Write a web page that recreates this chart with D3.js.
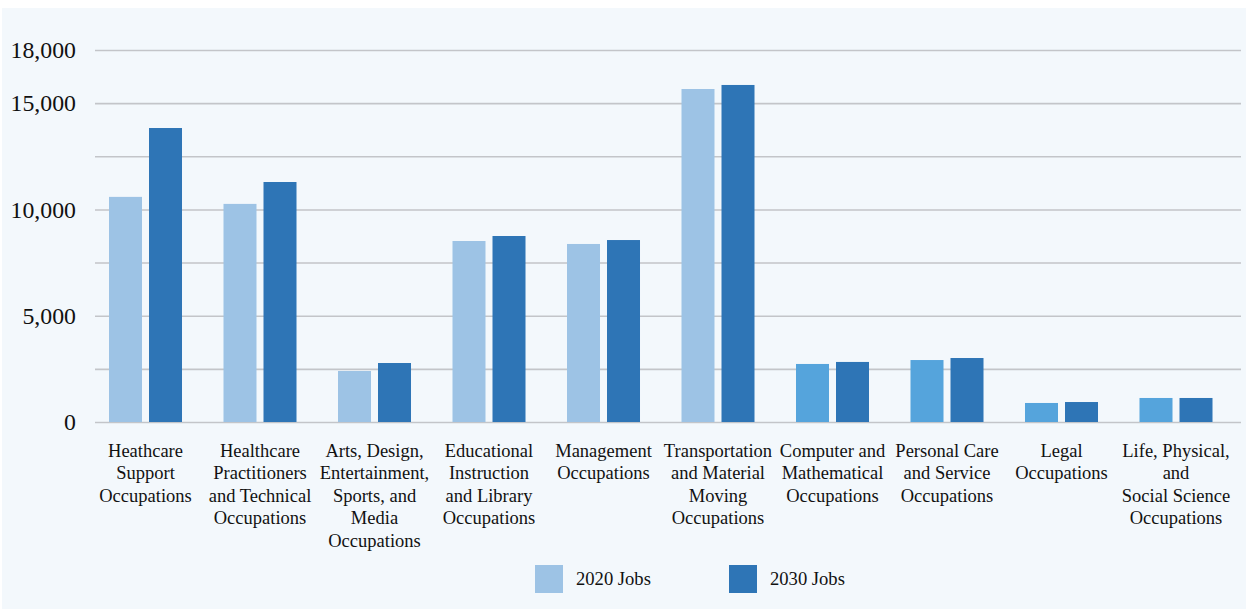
<!DOCTYPE html>
<html>
<head>
<meta charset="utf-8">
<script src="https://cdn.jsdelivr.net/npm/d3@7"></script>
<style>
  html, body { margin: 0; padding: 0; background: #ffffff; }
  svg { display: block; }
  text { font-family: "Liberation Serif", "Times New Roman", serif; fill: #111; }
</style>
</head>
<body>
<svg id="chart" width="1248" height="609"></svg>
<script>
// Occupation groups (line breaks mark label wrapping)
const categories = [
  "Heathcare\nSupport\nOccupations",
  "Healthcare\nPractitioners\nand Technical\nOccupations",
  "Arts, Design,\nEntertainment,\nSports, and\nMedia\nOccupations",
  "Educational\nInstruction\nand Library\nOccupations",
  "Management\nOccupations",
  "Transportation\nand Material\nMoving\nOccupations",
  "Computer and\nMathematical\nOccupations",
  "Personal Care\nand Service\nOccupations",
  "Legal\nOccupations",
  "Life, Physical,\nand\nSocial Science\nOccupations"
];
const seriesNames = ["2020 Jobs", "2030 Jobs"];
const jobs2020 = [10590, 10260, 2400, 8515, 8375, 15665, 2730, 2915, 895, 1130];
const jobs2030 = [13830, 11290, 2775, 8750, 8560, 15855, 2825, 3010, 940, 1130];
const tickValues = [0, 2500, 5000, 7500, 10000, 12500, 15000, 17500];
const tickLabels = ["0", "", "5,000", "", "10,000", "", "15,000", "18,000"];

const COLOR_2020 = "#9dc3e5";
const COLOR_2020_ALT = "#55a4dc";   // used for the last four groups
const COLOR_2030 = "#2e75b6";

const svg = d3.select("#chart");
const W = 1248, H = 609;

// light panel behind the chart
svg.append("rect").attr("x", 2).attr("y", 8).attr("width", W - 4).attr("height", H - 8)
  .attr("fill", "#f3f8fc");

const plot = { left: 88.25, right: 1233.25, top: 50, bottom: 422 };

const x0 = d3.scaleBand().domain(categories)
  .range([plot.left, plot.right]).paddingInner(0.3624).paddingOuter(0.1812);
const x1 = d3.scaleBand().domain(seriesNames)
  .range([0, x0.bandwidth()]).paddingInner(0.175).paddingOuter(0);
const y = d3.scaleLinear().domain([0, 17500]).range([plot.bottom, plot.top]);

// gridlines + y labels via axis
const yAxis = d3.axisLeft(y).tickValues(tickValues)
  .tickFormat((d, i) => tickLabels[i])
  .tickSize(-(1241 - 95)).tickPadding(19);
const gy = svg.append("g").attr("transform", "translate(95,0)").call(yAxis);
gy.select(".domain").remove();
gy.selectAll(".tick line").attr("stroke", "#c3c5c9").attr("stroke-width", 1.6);
gy.selectAll(".tick text").attr("font-size", 23.8).attr("fill", "#111")
  .attr("font-family", "Liberation Serif, serif");

// bars
const rows = categories.map((c, i) => ({ cat: c, i, vals: [jobs2020[i], jobs2030[i]] }));
const groups = svg.append("g").selectAll("g").data(rows).join("g")
  .attr("transform", d => `translate(${x0(d.cat)},0)`);
groups.selectAll("rect").data(d => d.vals.map((v, k) => ({ v, k, i: d.i })))
  .join("rect")
  .attr("x", d => x1(seriesNames[d.k]))
  .attr("width", x1.bandwidth())
  .attr("y", d => y(d.v))
  .attr("height", d => y(0) - y(d.v))
  .attr("fill", d => d.k === 1 ? COLOR_2030 : (d.i >= 6 ? COLOR_2020_ALT : COLOR_2020));

// category labels
const labels = svg.append("g").selectAll("text").data(categories).join("text")
  .attr("x", d => x0(d) + x0.bandwidth() / 2)
  .attr("y", 457)
  .attr("text-anchor", "middle")
  .attr("font-size", 18.5);
labels.selectAll("tspan").data(d => d.split("\n")).join("tspan")
  .attr("x", function () { return d3.select(this.parentNode).attr("x"); })
  .attr("dy", (d, i) => i === 0 ? 0 : 22.4)
  .text(d => d);

// legend
const legend = svg.append("g").selectAll("g").data(seriesNames).join("g")
  .attr("transform", (d, i) => `translate(${535 + i * 194},565)`);
legend.append("rect").attr("width", 28).attr("height", 28)
  .attr("fill", (d, i) => i === 0 ? COLOR_2020 : COLOR_2030);
legend.append("text").attr("x", 41).attr("y", 20).attr("font-size", 18.6).text(d => d);
</script>
</body>
</html>
